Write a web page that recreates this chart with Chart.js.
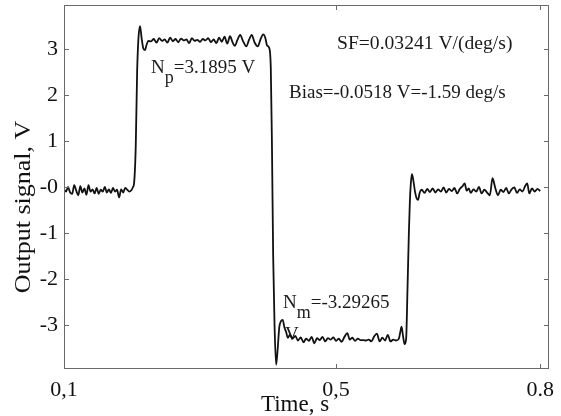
<!DOCTYPE html>
<html>
<head>
<meta charset="utf-8">
<title>Output signal</title>
<script src="https://cdn.jsdelivr.net/npm/chart.js@4.4.1/dist/chart.umd.min.js"></script>
<style>
  html, body { margin: 0; padding: 0; background: #fff; }
  #wrap { width: 561px; height: 416px; }
</style>
</head>
<body>
<div id="wrap"><canvas id="myChart" width="561" height="416"></canvas></div>
<script>
// time axis (s) and output signal (V)
const timeS = [
  0.100, 0.103, 0.106, 0.109, 0.112, 0.115, 0.118, 0.121, 0.124, 0.127,
  0.130, 0.133, 0.136, 0.139, 0.142, 0.145, 0.148, 0.151, 0.154, 0.157,
  0.160, 0.163, 0.166, 0.169, 0.172, 0.175, 0.178, 0.181, 0.184, 0.187,
  0.190, 0.193, 0.196, 0.199, 0.2015, 0.203,
  0.2055, 0.2075, 0.2095, 0.2118, 0.2140, 0.2165, 0.2190, 0.2215, 0.2240,
  0.228, 0.232, 0.236, 0.240, 0.244, 0.248, 0.252, 0.256, 0.260, 0.264,
  0.268, 0.272, 0.276, 0.280, 0.284, 0.288, 0.292, 0.296, 0.300, 0.304,
  0.308, 0.312, 0.316, 0.320, 0.324, 0.328, 0.332, 0.336, 0.340, 0.344,
  0.348, 0.351, 0.355, 0.359, 0.363, 0.368, 0.372, 0.376, 0.380, 0.385,
  0.389, 0.393, 0.396, 0.3985, 0.4015,
  0.4040, 0.4058, 0.4075, 0.4095, 0.4118, 0.4140, 0.4165, 0.4190, 0.4215,
  0.4240, 0.4265, 0.4290,
  0.432, 0.436, 0.440, 0.444, 0.448, 0.452, 0.456, 0.460, 0.464, 0.468,
  0.472, 0.476, 0.480, 0.484, 0.488, 0.492, 0.496, 0.500, 0.504, 0.508,
  0.512, 0.5165, 0.520, 0.524, 0.528, 0.532, 0.536, 0.540, 0.544, 0.548,
  0.552, 0.556, 0.560, 0.564, 0.568, 0.572, 0.576, 0.580, 0.584, 0.588,
  0.592, 0.5945, 0.5962, 0.5985, 0.6007, 0.6030,
  0.6050, 0.6070, 0.6085, 0.6100, 0.6115, 0.6135, 0.6160, 0.6185, 0.6205, 0.6230,
  0.626, 0.630, 0.634, 0.638, 0.642, 0.646, 0.650, 0.654, 0.658, 0.662,
  0.666, 0.670, 0.674, 0.678, 0.682, 0.686, 0.689, 0.692, 0.695, 0.698,
  0.702, 0.706, 0.710, 0.714, 0.718, 0.722, 0.726, 0.730, 0.734, 0.738,
  0.742, 0.746, 0.750, 0.754, 0.758, 0.762, 0.766, 0.770, 0.774, 0.778,
  0.781, 0.784, 0.788, 0.792, 0.796, 0.800
];

const outputV = [
  -0.05, -0.10, 0.00, -0.12, -0.15, 0.04, -0.08, -0.18, 0.02, -0.12,
  -0.03, -0.17, 0.04, -0.10, -0.05, -0.14, -0.02, -0.15, -0.06, -0.10,
  0.00, -0.12, -0.05, -0.13, -0.02, -0.10, -0.06, -0.23, -0.05, -0.12,
  -0.02, -0.06, -0.10, -0.07, 0.00, 0.08,
  0.90, 2.50, 3.25, 3.50, 3.25, 3.02, 2.98, 3.10, 3.18,
  3.17, 3.22, 3.14, 3.24, 3.18, 3.21, 3.14, 3.25, 3.17, 3.22,
  3.15, 3.23, 3.19, 3.21, 3.13, 3.24, 3.18, 3.20, 3.16, 3.22,
  3.19, 3.24, 3.15, 3.21, 3.13, 3.25, 3.16, 3.27, 3.12, 3.28,
  3.14, 3.07, 3.20, 3.31, 3.18, 3.06, 3.20, 3.31, 3.15, 3.06,
  3.22, 3.32, 3.24, 3.08, 3.03,
  2.60, 0.80, -1.50, -3.00, -3.87, -3.55, -3.05, -2.92, -2.89,
  -3.05, -3.15, -3.28,
  -3.22, -3.30, -3.24, -3.34, -3.27, -3.38, -3.30, -3.35, -3.26, -3.40,
  -3.29, -3.33, -3.26, -3.36, -3.29, -3.32, -3.27, -3.35, -3.30, -3.37,
  -3.27, -3.18, -3.32, -3.28, -3.35, -3.30, -3.33, -3.33, -3.34, -3.32,
  -3.36, -3.25, -3.19, -3.36, -3.28, -3.34, -3.22, -3.36, -3.32, -3.34,
  -3.31, -3.15, -3.04, -3.25, -3.42, -3.30,
  -2.20, -1.00, -0.30, 0.10, 0.28, 0.15, -0.10, -0.25, -0.28, -0.12,
  -0.06, -0.13, -0.04, -0.11, -0.03, -0.12, -0.05, -0.10, -0.01, -0.12,
  -0.04, -0.09, -0.02, -0.14, -0.04, 0.02, 0.08, -0.08, -0.03, -0.13,
  -0.05, -0.10, 0.00, -0.14, -0.06, -0.12, -0.18, 0.19, -0.02, -0.18,
  -0.06, -0.11, -0.02, -0.14, -0.05, -0.01, -0.13, -0.05, -0.10, 0.02,
  0.08, -0.14, -0.03, -0.10, -0.04, -0.09
];

// ticks as printed on the original figure
const xTickValues = [0.1, 0.5, 0.8];
const xTickLabels = ['0,1', '0,5', '0.8'];
const yTickValues = [3, 2, 1, 0, -1, -2, -3];
const yTickLabels = ['3', '2', '1', '-0', '-1', '-2', '-3'];

const serif = '"Liberation Serif", "Times New Roman", serif';
const inkColor = '#111';
const frameColor = '#6a6a6a';

// frame with inward ticks (matlab style)
const framePlugin = {
  id: 'frame',
  afterDraw(chart) {
    const { ctx, chartArea: a, scales } = chart;
    const len = 5;
    ctx.save();
    ctx.strokeStyle = frameColor;
    ctx.lineWidth = 1;
    ctx.strokeRect(a.left + 0.5, a.top + 0.5, a.right - a.left - 1, a.bottom - a.top - 1);
    ctx.beginPath();
    scales.x.ticks.forEach(t => {
      const px = Math.round(scales.x.getPixelForValue(t.value)) + 0.5;
      ctx.moveTo(px, a.bottom); ctx.lineTo(px, a.bottom - len);
      ctx.moveTo(px, a.top); ctx.lineTo(px, a.top + len);
    });
    scales.y.ticks.forEach(t => {
      const py = Math.round(scales.y.getPixelForValue(t.value)) + 0.5;
      ctx.moveTo(a.left, py); ctx.lineTo(a.left + len, py);
      ctx.moveTo(a.right, py); ctx.lineTo(a.right - len, py);
    });
    ctx.stroke();
    ctx.restore();
  }
};

// text with a subscript: N_p, N_m
function subText(ctx, base, sub, rest, x, y) {
  ctx.font = '19px ' + serif;
  ctx.fillText(base, x, y);
  x += ctx.measureText(base).width;
  ctx.font = '18px ' + serif;
  ctx.fillText(sub, x, y + 10);
  x += ctx.measureText(sub).width;
  ctx.font = '19px ' + serif;
  ctx.fillText(rest, x, y);
}

const notesPlugin = {
  id: 'notes',
  beforeDatasetsDraw(chart) {
    const { ctx } = chart;
    ctx.save();
    ctx.fillStyle = '#1a1a1a';
    ctx.textAlign = 'left';
    ctx.textBaseline = 'alphabetic';
    ctx.font = '19.6px ' + serif;
    ctx.fillText('SF=0.03241 V/(deg/s)', 337, 49);
    ctx.font = '19px ' + serif;
    ctx.fillText('Bias=-0.0518 V=-1.59 deg/s', 289, 98);
    subText(ctx, 'N', 'p', '=3.1895 V', 151, 73);
    subText(ctx, 'N', 'm', '=-3.29265', 283, 308);
    ctx.font = '19px ' + serif;
    ctx.fillText('V', 285, 340);

    // axis titles
    ctx.fillStyle = inkColor;
    ctx.font = '23px ' + serif;
    ctx.textAlign = 'center';
    ctx.fillText('Time, s', 295, 411);
    ctx.translate(30, 207);
    ctx.rotate(-Math.PI / 2);
    ctx.scale(1.13, 1);
    ctx.fillText('Output signal, V', 0, 0);
    ctx.restore();
  }
};

const points = timeS.map((t, i) => ({ x: t, y: outputV[i] }));

new Chart(document.getElementById('myChart'), {
  type: 'line',
  data: {
    datasets: [{
      label: 'Output signal',
      data: points,
      borderColor: inkColor,
      borderWidth: 1.8,
      pointRadius: 0,
      cubicInterpolationMode: 'monotone',
      fill: false
    }]
  },
  options: {
    responsive: false,
    animation: false,
    layout: { padding: { left: 0, right: 12, top: 5, bottom: 0 } },
    plugins: {
      legend: { display: false },
      tooltip: { enabled: false }
    },
    scales: {
      x: {
        type: 'linear',
        min: 0.1,
        max: 0.813,
        grid: { display: false, drawTicks: false },
        border: { display: false },
        afterBuildTicks: s => { s.ticks = xTickValues.map(v => ({ value: v })); },
        afterFit: s => { s.height = 47; s.paddingLeft = 0; s.paddingRight = 0; },
        ticks: {
          autoSkip: false,
          maxRotation: 0,
          padding: 8,
          color: inkColor,
          font: { family: serif, size: 22 },
          callback: v => xTickLabels[xTickValues.indexOf(v)]
        }
      },
      y: {
        min: -3.96,
        max: 3.96,
        grid: { display: false, drawTicks: false },
        border: { display: false },
        afterBuildTicks: s => { s.ticks = yTickValues.map(v => ({ value: v })); },
        afterFit: s => { s.width = 64; s.paddingTop = 0; s.paddingBottom = 0; },
        ticks: {
          padding: 6,
          color: inkColor,
          font: { family: serif, size: 22 },
          callback: v => yTickLabels[yTickValues.indexOf(v)]
        }
      }
    }
  },
  plugins: [framePlugin, notesPlugin]
});
</script>
</body>
</html>
